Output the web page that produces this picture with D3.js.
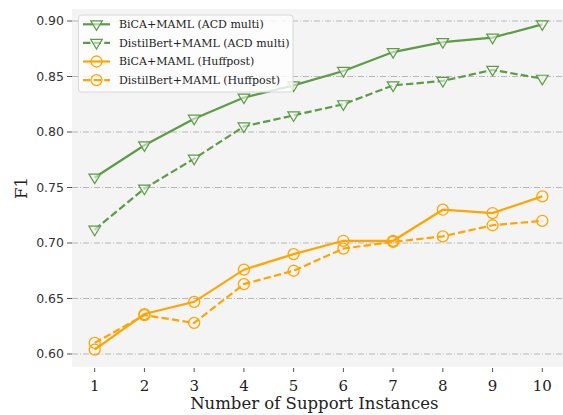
<!DOCTYPE html>
<html><head><meta charset="utf-8">
<script src="https://cdn.jsdelivr.net/npm/d3@7"></script>
<style>body{margin:0;background:#fff;} svg{display:block;}</style>
</head><body>
<script>
const xValues = [1,2,3,4,5,6,7,8,9,10];
const bicaAcd = [0.759,0.788,0.812,0.831,0.842,0.855,0.872,0.881,0.885,0.897];
const distilAcd = [0.712,0.749,0.776,0.805,0.815,0.825,0.842,0.846,0.856,0.848];
const bicaHuff = [0.604,0.636,0.647,0.676,0.690,0.702,0.702,0.730,0.727,0.742];
const distilHuff = [0.610,0.635,0.628,0.663,0.675,0.695,0.701,0.706,0.716,0.720];
const yTicks = [0.60,0.65,0.70,0.75,0.80,0.85,0.90];
const seriesNames = ["BiCA+MAML (ACD multi)","DistilBert+MAML (ACD multi)","BiCA+MAML (Huffpost)","DistilBert+MAML (Huffpost)"];

const W=563,H=415;
const green="#5b9c45", orange="#ffa500";
const series=[
 {name:seriesNames[0],vals:bicaAcd,color:green,dash:null,marker:"tri"},
 {name:seriesNames[1],vals:distilAcd,color:green,dash:"7.4,3.2",marker:"tri"},
 {name:seriesNames[2],vals:bicaHuff,color:orange,dash:null,marker:"circ"},
 {name:seriesNames[3],vals:distilHuff,color:orange,dash:"7.4,3.2",marker:"circ"}
];
const svg=d3.select("body").append("svg").attr("width",W).attr("height",H);
const pLeft=72, pTop=9, pBottom=367;
const x=d3.scaleLinear().domain([1,10]).range([94.7,542.3]);
const y=d3.scaleLinear().domain([0.60,0.90]).range([354,21]);
const pRight=x(10.45);
svg.append("rect").attr("x",pLeft).attr("y",pTop).attr("width",pRight-pLeft).attr("height",pBottom-pTop).attr("fill","#f4f4f4");
// grid
svg.append("g").selectAll("line").data(yTicks).join("line")
 .attr("x1",pLeft).attr("x2",pRight).attr("y1",d=>y(d)).attr("y2",d=>y(d))
 .attr("stroke","#b8b8b8").attr("stroke-width",1).attr("stroke-dasharray","6,2,1,2");
// y axis
const ya=svg.append("g");
ya.selectAll("line").data(yTicks).join("line").attr("x1",pLeft-5).attr("x2",pLeft).attr("y1",d=>y(d)).attr("y2",d=>y(d)).attr("stroke","#555").attr("stroke-width",1);
ya.selectAll("text").data(yTicks).join("text").attr("x",pLeft-8).attr("y",d=>y(d)).attr("dy","0.35em").attr("text-anchor","end")
 .attr("font-family","DejaVu Sans").attr("font-size",12.5).attr("fill","#333").text(d=>d3.format(".2f")(d));
// x axis
const xa=svg.append("g");
xa.selectAll("line").data(xValues).join("line").attr("x1",d=>x(d)).attr("x2",d=>x(d)).attr("y1",pBottom+1).attr("y2",pBottom+5).attr("stroke","#555").attr("stroke-width",1);
xa.selectAll("text").data(xValues).join("text").attr("x",d=>x(d)).attr("y",pBottom+24).attr("text-anchor","middle")
 .attr("font-family","DejaVu Serif").attr("font-size",15).attr("fill","#222").text(d=>d);
svg.append("text").attr("x",(pLeft+pRight)/2 - 4).attr("y",409).attr("text-anchor","middle").attr("font-family","DejaVu Serif").attr("font-size",16.5).attr("fill","#222").text("Number of Support Instances");
svg.append("text").attr("transform","translate(27,188) rotate(-90)").attr("text-anchor","middle").attr("font-family","DejaVu Serif").attr("font-size",16.5).attr("fill","#222").text("F1");

function drawMarker(g,type,cx,cy,color){
 if(type==="tri"){
   const s=5.8;
   g.append("path").attr("d",`M${cx-s},${cy-s*0.6}L${cx+s},${cy-s*0.6}L${cx},${cy+s*1.05}Z`)
    .attr("fill","#f4f4f4").attr("fill-opacity",0.6).attr("stroke",color).attr("stroke-width",1.2);
 } else {
   g.append("circle").attr("cx",cx).attr("cy",cy).attr("r",5.5).attr("fill","none").attr("stroke",color).attr("stroke-width",1.3);
 }
}
const line=d3.line().x((d,i)=>x(xValues[i])).y(d=>y(d));
series.forEach(s=>{
  const g=svg.append("g");
  g.append("path").attr("d",line(s.vals)).attr("fill","none").attr("stroke",s.color).attr("stroke-width",2.2).attr("stroke-dasharray",s.dash);
  s.vals.forEach((v,i)=>drawMarker(g,s.marker,x(xValues[i]),y(v),s.color));
});
// legend
const lg=svg.append("g");
lg.append("rect").attr("x",78.5).attr("y",15).attr("width",214.5).attr("height",77).attr("rx",3).attr("fill","#fff").attr("fill-opacity",0.8).attr("stroke","#d8d8d8");
series.forEach((s,i)=>{
  const cy=24.3+i*18.6;
  lg.append("line").attr("x1",83).attr("x2",110).attr("y1",cy).attr("y2",cy).attr("stroke",s.color).attr("stroke-width",2.2).attr("stroke-dasharray",s.dash?"7.4,3.2":null);
  drawMarker(lg,s.marker,96.5,cy,s.color);
  lg.append("text").attr("x",119).attr("y",cy).attr("dy","0.35em").attr("font-family","DejaVu Serif").attr("font-size",11).attr("fill","#222").text(s.name);
});
</script>
</body></html>
